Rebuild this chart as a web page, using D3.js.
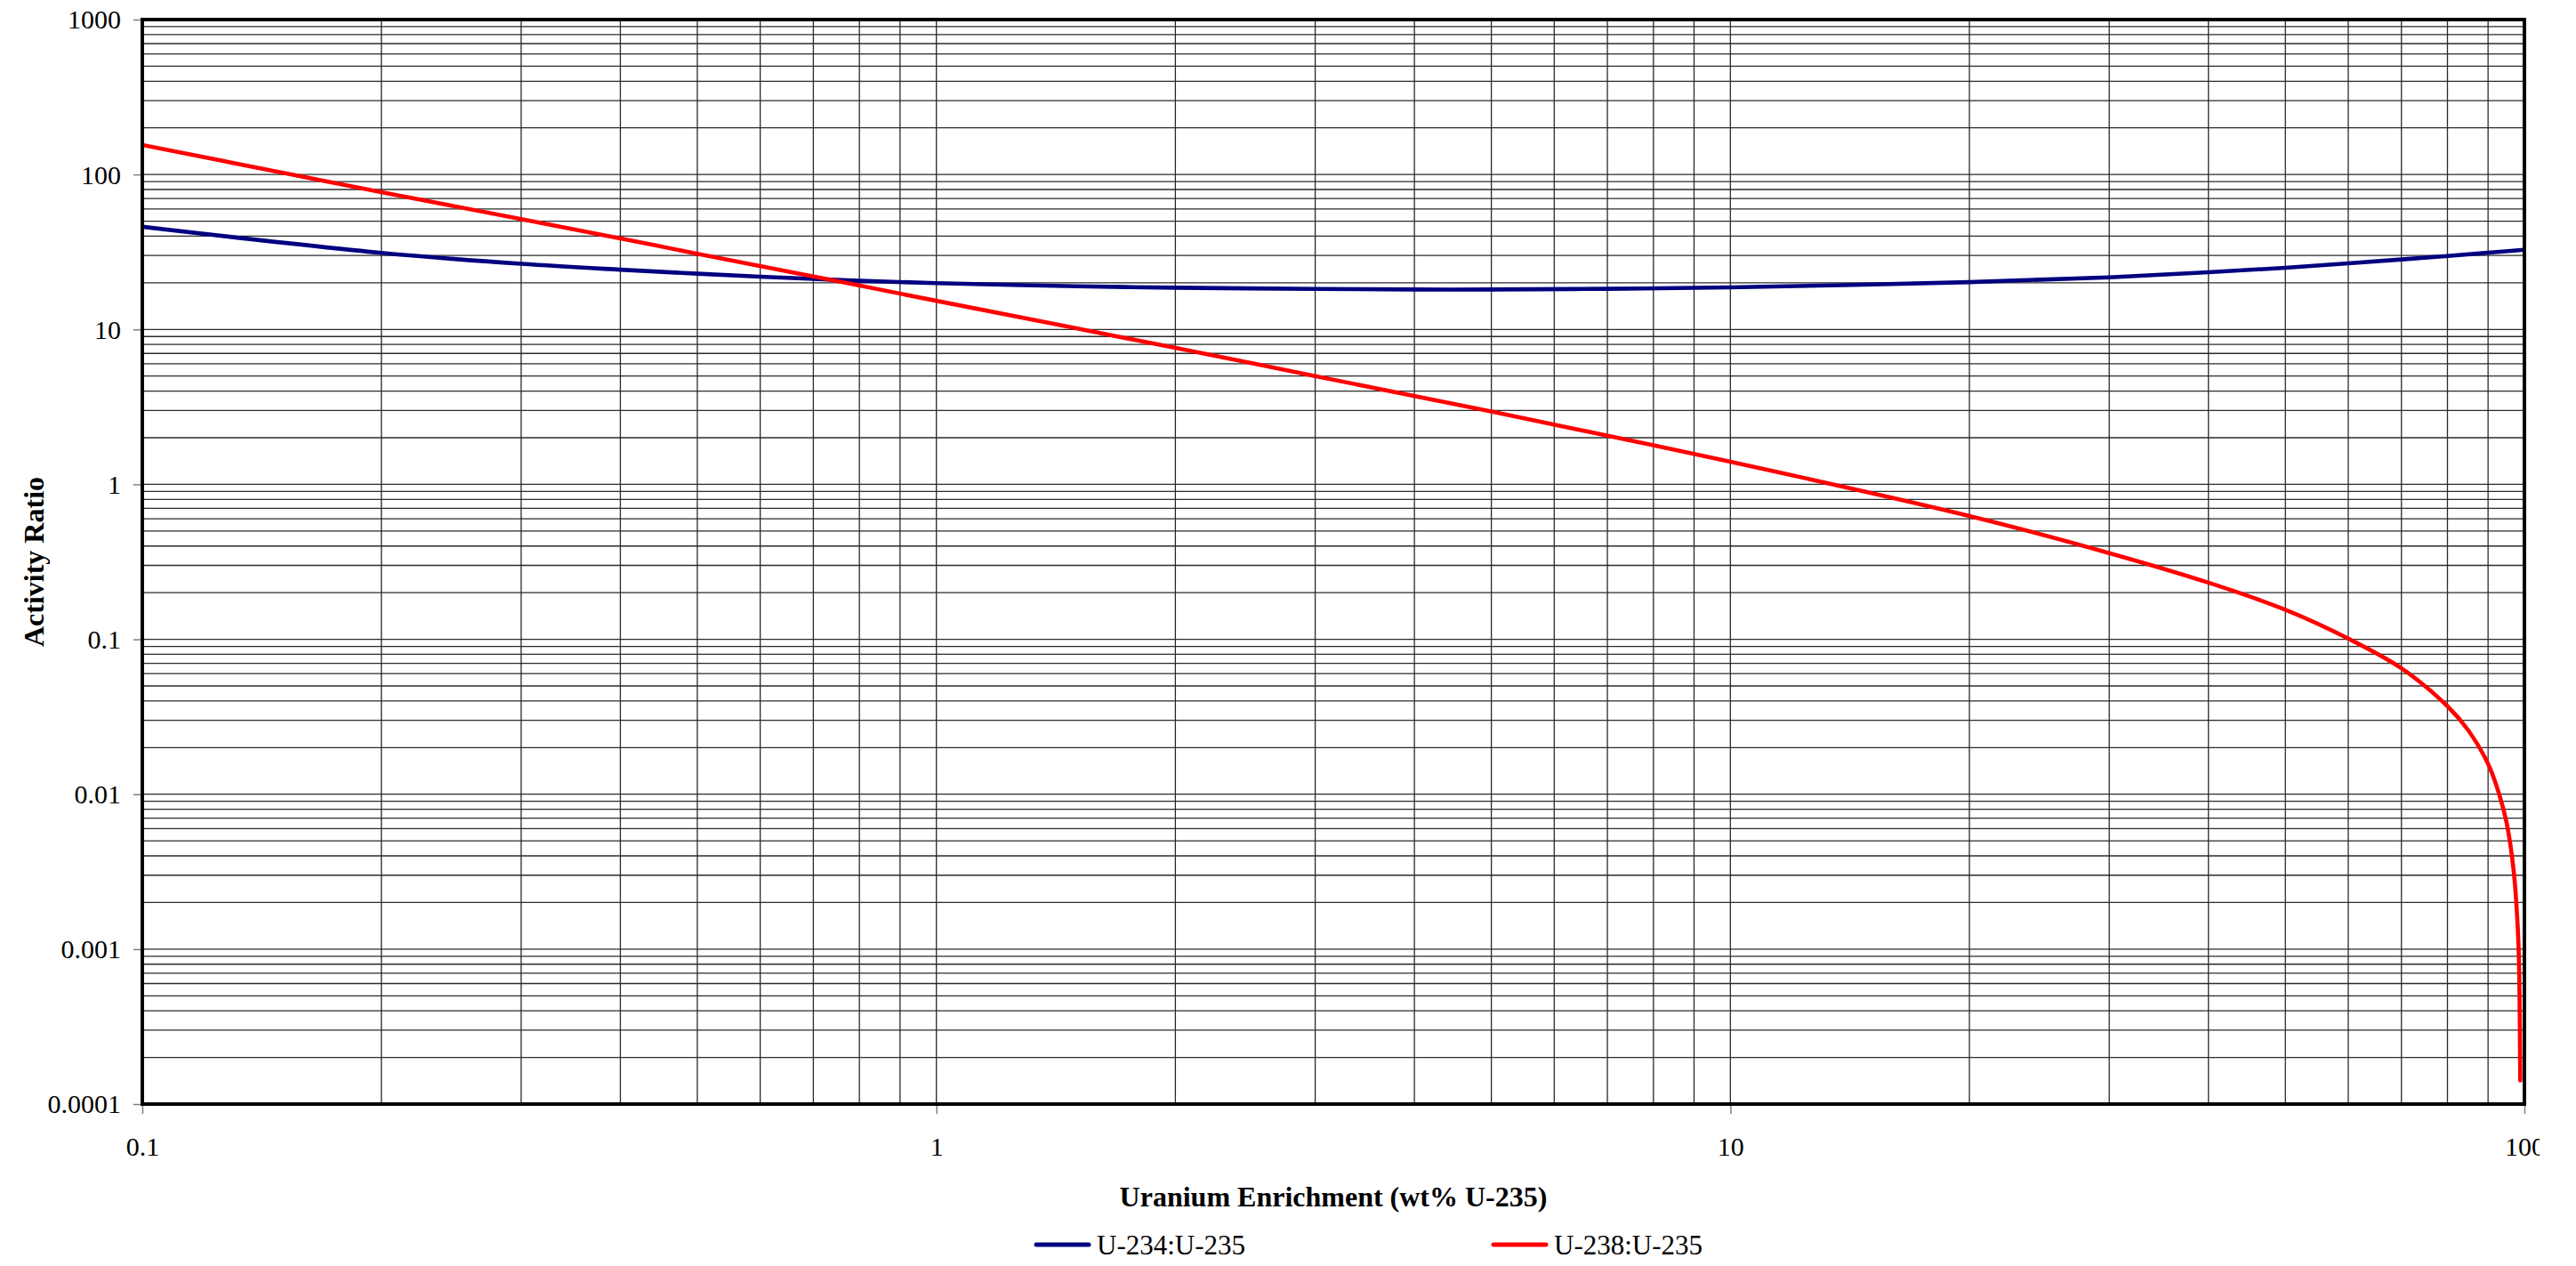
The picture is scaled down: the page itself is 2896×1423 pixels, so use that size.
<!DOCTYPE html>
<html><head><meta charset="utf-8">
<script src="https://cdn.jsdelivr.net/npm/d3@7"></script>
<style>
body{margin:0;background:#fff}
svg{display:block}
text{font-family:"Liberation Serif","Times New Roman",Times,serif;fill:#000}
</style>
</head><body>
<svg id="chart" width="2896" height="1423"></svg>
<script>
// ---- data ----
const enrichment234 = [0.1, 0.2, 0.3, 0.4, 0.5, 0.6, 0.7, 0.8, 1, 1.5, 2, 3, 4, 5, 7, 10, 20, 30, 40, 50, 60, 70, 80, 90, 100];
const ratio234      = [46, 31.2, 26.5, 24.3, 22.9, 21.9, 21.2, 20.6, 19.9, 19.0, 18.6, 18.25, 18.1, 18.1, 18.3, 18.7, 20.2, 21.7, 23.4, 25.0, 26.7, 28.3, 29.8, 31.3, 32.7];
const enrichment238 = [0.1, 0.2, 0.3, 0.4, 0.5, 0.7, 1, 2, 3, 5, 10, 20, 30, 40, 50, 60, 70, 80, 85, 90, 93, 95, 97, 98, 98.4, 98.6, 98.75, 98.8];
const ratio238      = [155, 77, 51.5, 38.7, 30.8, 22, 15.3, 7.6, 5.0, 2.95, 1.40, 0.625, 0.36, 0.232, 0.155, 0.101, 0.065, 0.037, 0.0258, 0.0157, 0.0099, 0.0065, 0.0031, 0.0015, 0.0009, 0.0005, 0.0002, 0.000142];
const seriesNames  = ["U-234:U-235", "U-238:U-235"];
const seriesColors = ["#000080", "#FF0000"];
const xTickValues = [0.1, 1, 10, 100];
const xTickLabels = ["0.1", "1", "10", "100"];
const yTickValues = [0.0001, 0.001, 0.01, 0.1, 1, 10, 100, 1000];
const yTickLabels = ["0.0001", "0.001", "0.01", "0.1", "1", "10", "100", "1000"];
const xTitle = "Uranium Enrichment (wt% U-235)";
const yTitle = "Activity Ratio";

// ---- layout ----
const L = 160, R = 2838, T = 22, B = 1241;
const svg = d3.select("#chart");
const x = d3.scaleLog().domain([0.1, 100]).range([L, R]);
const y = d3.scaleLog().domain([0.0001, 1000]).range([B, T]);

// gridlines
const xGrid = [], yGrid = [];
for (let i = 0; i < xTickValues.length - 1; i++)
  for (let m = 1; m <= 9; m++) xGrid.push(xTickValues[i] * m);
for (let i = 0; i < yTickValues.length - 1; i++)
  for (let m = 1; m <= 9; m++) yGrid.push(yTickValues[i] * m);

const grid = svg.append("g");
grid.selectAll("line.gx").data(xGrid).join("line")
  .attr("x1", d => x(d)).attr("x2", d => x(d)).attr("y1", T).attr("y2", B)
  .attr("stroke", "#2a2a2a").attr("stroke-width", 1.3);
grid.selectAll("line.gy").data(yGrid).join("line")
  .attr("y1", d => y(d)).attr("y2", d => y(d)).attr("x1", L).attr("x2", R)
  .attr("stroke", "#2a2a2a").attr("stroke-width", 1.3);

// axes
const yAxis = d3.axisLeft(y).tickValues(yTickValues)
  .tickFormat((d, i) => yTickLabels[i]).tickSize(10).tickPadding(14);
const gy = svg.append("g").attr("transform", `translate(${L},0)`).call(yAxis);
gy.select(".domain").remove();
gy.selectAll(".tick line").attr("stroke", "#808080").attr("stroke-width", 1.5);
gy.selectAll(".tick text").attr("font-size", 30).attr("dy", "0.33em")
  .style("font-family", '"Liberation Serif","Times New Roman",serif');

svg.append("defs").append("clipPath").attr("id", "xlabclip")
  .append("rect").attr("x", 0).attr("y", 0).attr("width", 2855).attr("height", 1423);
svg.select("defs").append("clipPath").attr("id", "plotclip")
  .append("rect").attr("x", L).attr("y", T - 3).attr("width", R - L).attr("height", B - T + 3);

const xAxis = d3.axisBottom(x).tickValues(xTickValues)
  .tickFormat((d, i) => xTickLabels[i]).tickSize(11).tickPadding(26);
const gx = svg.append("g").attr("transform", `translate(0,${B})`)
  .attr("clip-path", "url(#xlabclip)").call(xAxis);
gx.select(".domain").remove();
gx.selectAll(".tick line").attr("stroke", "#808080").attr("stroke-width", 1.5);
gx.selectAll(".tick text").attr("font-size", 30).attr("dy", "0.71em")
  .style("font-family", '"Liberation Serif","Times New Roman",serif');

// series
const line = d3.line().x(d => x(d[0])).y(d => y(d[1])).curve(d3.curveCatmullRom.alpha(0.5));
const s234 = enrichment234.map((e, i) => [e, ratio234[i]]);
const s238 = enrichment238.map((e, i) => [e, ratio238[i]]);
const plot = svg.append("g").attr("clip-path", "url(#plotclip)");
plot.append("path").datum(s234).attr("d", line).attr("fill", "none")
  .attr("stroke", seriesColors[0]).attr("stroke-width", 4.6).attr("stroke-linejoin", "round");
plot.append("path").datum(s238).attr("d", line).attr("fill", "none")
  .attr("stroke", seriesColors[1]).attr("stroke-width", 4.6).attr("stroke-linejoin", "round")
  .attr("stroke-linecap", "round");

// frame
svg.append("rect").attr("x", L).attr("y", T).attr("width", R - L).attr("height", B - T)
  .attr("fill", "none").attr("stroke", "#000").attr("stroke-width", 4);

// titles
svg.append("text").attr("x", (L + R) / 2).attr("y", 1356).attr("text-anchor", "middle")
  .attr("font-size", 32).attr("font-weight", "bold").text(xTitle);
svg.append("text").attr("transform", `translate(49,${(T + B) / 2}) rotate(-90)`)
  .attr("text-anchor", "middle").attr("font-size", 32).attr("font-weight", "bold").text(yTitle);

// legend
const legendX = [1165, 1679];
const lg = svg.append("g");
seriesNames.forEach((name, i) => {
  lg.append("line").attr("x1", legendX[i]).attr("x2", legendX[i] + 59)
    .attr("y1", 1399).attr("y2", 1399).attr("stroke", seriesColors[i])
    .attr("stroke-width", 5).attr("stroke-linecap", "round");
  lg.append("text").attr("x", legendX[i] + 68).attr("y", 1410)
    .attr("font-size", 31).text(name);
});
</script>
</body></html>
